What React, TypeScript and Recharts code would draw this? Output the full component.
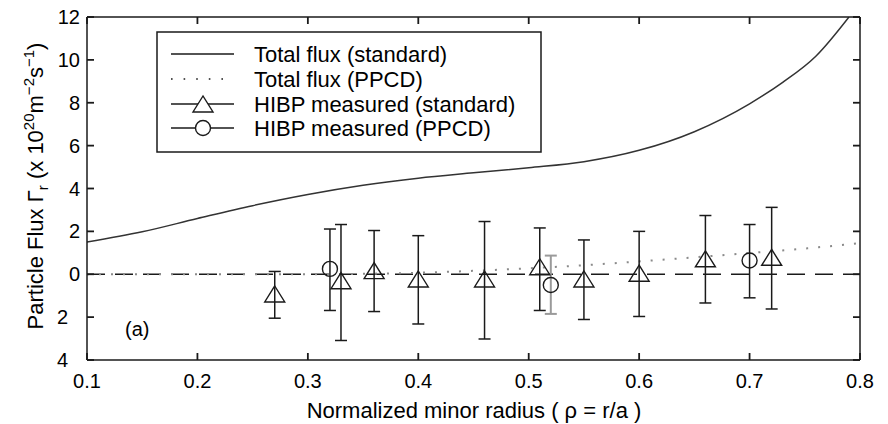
import React from 'react';
import {
  ComposedChart,
  Line,
  Scatter,
  XAxis,
  YAxis,
  ErrorBar,
  ReferenceLine,
  Customized,
} from 'recharts';

// ---------- data ----------
const xTicks = [0.1, 0.2, 0.3, 0.4, 0.5, 0.6, 0.7, 0.8];
const yTicks = [-4, -2, 0, 2, 4, 6, 8, 10, 12];

const totalStdRho = [0.1, 0.15, 0.2, 0.25, 0.3, 0.35, 0.4, 0.45, 0.5, 0.55, 0.6, 0.65, 0.7, 0.73, 0.76, 0.79];
const totalStdFlux = [1.5, 1.98, 2.6, 3.2, 3.72, 4.15, 4.48, 4.73, 4.97, 5.25, 5.78, 6.65, 7.95, 8.95, 10.17, 12.0];

const totalPpcdRho = [0.1, 0.2, 0.3, 0.35, 0.4, 0.45, 0.5, 0.55, 0.6, 0.65, 0.7, 0.75, 0.8];
const totalPpcdFlux = [0, 0, 0, 0.02, 0.07, 0.16, 0.28, 0.42, 0.6, 0.79, 0.99, 1.2, 1.45];

const stdRho = [0.27, 0.33, 0.36, 0.4, 0.46, 0.51, 0.55, 0.6, 0.66, 0.72];
const stdFlux = [-0.92, -0.3, 0.17, -0.22, -0.22, 0.35, -0.22, 0.05, 0.72, 0.79];
const stdTop = [0.13, 2.32, 2.04, 1.8, 2.46, 2.16, 1.6, 2.0, 2.74, 3.12];
const stdBottom = [-2.05, -3.09, -1.74, -2.32, -3.02, -1.69, -2.11, -1.97, -1.34, -1.62];

const ppcdRho = [0.32, 0.52, 0.7];
const ppcdFlux = [0.25, -0.5, 0.64];
const ppcdTop = [2.11, 0.87, 2.32];
const ppcdBottom = [-1.69, -1.85, -1.1];

const legendLabels = [
  'Total flux (standard)',
  'Total flux (PPCD)',
  'HIBP measured (standard)',
  'HIBP measured (PPCD)',
];

// ---------- derived tables ----------
const totalStd = totalStdRho.map((rho, i) => ({ rho, flux: totalStdFlux[i] }));
const totalPpcd = totalPpcdRho.map((rho, i) => ({ rho, flux: totalPpcdFlux[i] }));
const stdPoints = stdRho.map((rho, i) => ({
  rho,
  flux: stdFlux[i],
  err: [stdFlux[i] - stdBottom[i], stdTop[i] - stdFlux[i]],
}));
const ppcdPoints = ppcdRho.map((rho, i) => ({
  rho,
  flux: ppcdFlux[i],
  err: [ppcdFlux[i] - ppcdBottom[i], ppcdTop[i] - ppcdFlux[i]],
}));
const GRAY_BAR_INDEX = 1;
const ppcdBlack = ppcdPoints.filter((_, i) => i !== GRAY_BAR_INDEX);
const ppcdGray = ppcdPoints.filter((_, i) => i === GRAY_BAR_INDEX);

// ---------- styles ----------
const FONT = '"Liberation Sans", Arial, Helvetica, sans-serif';
const INK = '#1a1a1a';
const TICK_LEN = 7;
const TICK_W = 1.8;

const Triangle = (props: any) => {
  const { cx, cy } = props;
  if (cx == null || cy == null) return null;
  return (
    <polygon
      points={`${cx},${cy - 8} ${cx - 10},${cy + 8} ${cx + 10},${cy + 8}`}
      fill="none"
      stroke={INK}
      strokeWidth={1.4}
    />
  );
};

const Circle = (props: any) => {
  const { cx, cy } = props;
  if (cx == null || cy == null) return null;
  return <circle cx={cx} cy={cy} r={7.5} fill="none" stroke={INK} strokeWidth={1.4} />;
};

const BottomTick = (props: any) => {
  const { x, y, payload } = props;
  return (
    <g>
      <line x1={x} y1={y} x2={x} y2={y - TICK_LEN} stroke={INK} strokeWidth={TICK_W} />
      <text x={x} y={y + 28} textAnchor="middle" fontSize={20} fontFamily={FONT} fill="#000">
        {String(payload.value)}
      </text>
    </g>
  );
};

const TopTick = (props: any) => {
  const { x, y } = props;
  return <line x1={x} y1={y} x2={x} y2={y + TICK_LEN} stroke={INK} strokeWidth={TICK_W} />;
};

const LeftTick = (props: any) => {
  const { x, y, payload } = props;
  const v = payload.value as number;
  const shift = v < 0 ? 12 : 0;
  return (
    <g>
      <line x1={x} y1={y} x2={x + TICK_LEN} y2={y} stroke={INK} strokeWidth={TICK_W} />
      <text
        x={x - 7 - shift}
        y={y + 7}
        textAnchor="end"
        fontSize={20}
        fontFamily={FONT}
        fill="#000"
      >
        {String(Math.abs(v))}
      </text>
    </g>
  );
};

const RightTick = (props: any) => {
  const { x, y } = props;
  return <line x1={x} y1={y} x2={x - TICK_LEN} y2={y} stroke={INK} strokeWidth={TICK_W} />;
};

const Decorations = () => {
  const rows = [54, 79, 104, 128];
  return (
    <g fontFamily={FONT}>
      <rect x={157} y={32} width={384} height={120} fill="#fff" stroke={INK} strokeWidth={1.5} />
      <line x1={171} y1={rows[0]} x2={234} y2={rows[0]} stroke={INK} strokeWidth={1.4} />
      <line
        x1={171}
        y1={rows[1]}
        x2={234}
        y2={rows[1]}
        stroke={INK}
        strokeWidth={1.6}
        strokeDasharray="1.6 11"
      />
      <line x1={171} y1={rows[2]} x2={234} y2={rows[2]} stroke={INK} strokeWidth={1.4} />
      <polygon
        points={`203,${rows[2] - 8} 193,${rows[2] + 8} 213,${rows[2] + 8}`}
        fill="#fff"
        stroke={INK}
        strokeWidth={1.4}
      />
      <line x1={171} y1={rows[3]} x2={234} y2={rows[3]} stroke={INK} strokeWidth={1.4} />
      <circle cx={203} cy={rows[3]} r={7.5} fill="#fff" stroke={INK} strokeWidth={1.4} />
      {legendLabels.map((t, i) => (
        <text key={t} x={254} y={rows[i] + 8} fontSize={22} fill="#000">
          {t}
        </text>
      ))}
      <text x={125} y={336} fontSize={20} fill="#000">
        (a)
      </text>
      <text x={474} y={418} textAnchor="middle" fontSize={22} fill="#000">
        Normalized minor radius ( ρ = r/a )
      </text>
      <text
        x={43}
        y={186}
        textAnchor="middle"
        fontSize={22}
        fill="#000"
        transform="rotate(-90, 43, 186)"
      >
        <tspan>Particle Flux Γ</tspan>
        <tspan fontSize={15} dy={5}>r</tspan>
        <tspan dy={-5}> (x 10</tspan>
        <tspan fontSize={15} dy={-9}>20</tspan>
        <tspan dy={9}>m</tspan>
        <tspan fontSize={15} dy={-9}>−2</tspan>
        <tspan dy={9}>s</tspan>
        <tspan fontSize={15} dy={-9}>−1</tspan>
        <tspan dy={9}>)</tspan>
      </text>
    </g>
  );
};

export default function App() {
  return (
    <div style={{ position: 'absolute', left: 0, top: 0, width: 888, height: 424, background: '#fff' }}>
      <ComposedChart
        width={888}
        height={424}
        margin={{ top: 16, right: 27, bottom: 0, left: 0 }}
      >
        <XAxis
          dataKey="rho"
          type="number"
          domain={[0.1, 0.8]}
          ticks={xTicks}
          interval={0}
          allowDataOverflow
          height={64}
          tickSize={0}
          tickMargin={0}
          tick={BottomTick}
          axisLine={{ stroke: INK, strokeWidth: 1.5 }}
          tickLine={false}
        />
        <XAxis
          xAxisId="top"
          orientation="top"
          dataKey="rho"
          type="number"
          domain={[0.1, 0.8]}
          ticks={xTicks}
          interval={0}
          allowDataOverflow
          height={1}
          tickSize={0}
          tickMargin={0}
          tick={TopTick}
          axisLine={{ stroke: INK, strokeWidth: 1.5 }}
          tickLine={false}
        />
        <YAxis
          type="number"
          domain={[-4, 12]}
          ticks={yTicks}
          interval={0}
          allowDataOverflow
          width={87}
          tickSize={0}
          tickMargin={0}
          tick={LeftTick}
          axisLine={{ stroke: INK, strokeWidth: 1.5 }}
          tickLine={false}
        />
        <YAxis
          yAxisId="right"
          orientation="right"
          type="number"
          domain={[-4, 12]}
          ticks={yTicks}
          interval={0}
          allowDataOverflow
          width={1}
          tickSize={0}
          tickMargin={0}
          tick={RightTick}
          axisLine={{ stroke: INK, strokeWidth: 1.5 }}
          tickLine={false}
        />
        <ReferenceLine y={0} stroke={INK} strokeWidth={1.4} strokeDasharray="18 10" />
        <Line
          data={totalPpcd}
          dataKey="flux"
          type="monotone"
          stroke="#8a8a8a"
          strokeWidth={2}
          strokeDasharray="2 10"
          dot={false}
          activeDot={false}
          isAnimationActive={false}
        />
        <Line
          data={totalStd}
          dataKey="flux"
          type="monotone"
          stroke="#333"
          strokeWidth={1.5}
          dot={false}
          activeDot={false}
          isAnimationActive={false}
        />
        <Scatter data={stdPoints} dataKey="flux" shape={Triangle} isAnimationActive={false}>
          <ErrorBar dataKey="err" direction="y" width={6} stroke={INK} strokeWidth={1.5} />
        </Scatter>
        <Scatter data={ppcdBlack} dataKey="flux" shape={Circle} isAnimationActive={false}>
          <ErrorBar dataKey="err" direction="y" width={6} stroke={INK} strokeWidth={1.5} />
        </Scatter>
        <Scatter data={ppcdGray} dataKey="flux" shape={Circle} isAnimationActive={false}>
          <ErrorBar dataKey="err" direction="y" width={6} stroke="#9a9a9a" strokeWidth={2} />
        </Scatter>
        <Customized component={Decorations} />
      </ComposedChart>
    </div>
  );
}
